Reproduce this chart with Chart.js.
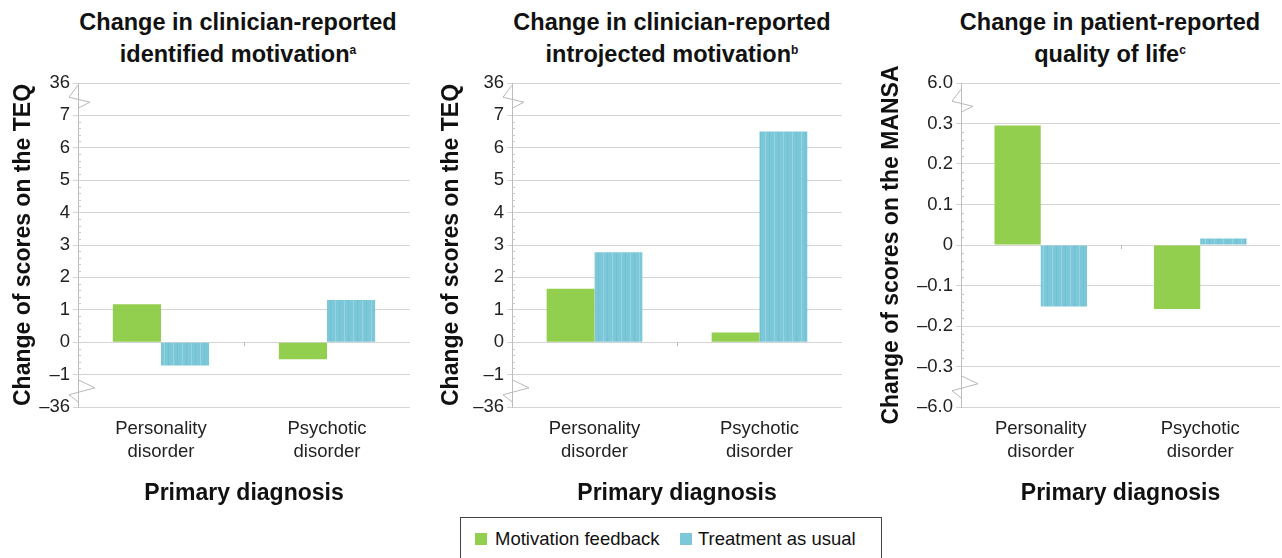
<!DOCTYPE html>
<html>
<head>
<meta charset="utf-8">
<script src="https://cdn.jsdelivr.net/npm/chart.js@4.4.1/dist/chart.umd.min.js"></script>
<style>
  body { margin: 0; background: #fff; font-family: "Liberation Sans", Arial, sans-serif; }
  #page { position: relative; width: 1282px; height: 558px; overflow: hidden; }
  .title { position: absolute; top: 8px; width: 440px; text-align: center; font-weight: bold; font-size: 23.5px; line-height: 28px; color: #111; }
  .title sup { font-size: 12px; vertical-align: 8px; }
  .panel { position: absolute; top: 40px; height: 467px; }
  #legend { position: absolute; left: 460px; top: 517px; width: 422px; height: 50px; border: 1px solid #444; box-sizing: border-box; font-size: 18.5px; color: #111; }
  #legend span.sw { position: absolute; top: 15px; width: 12px; height: 12px; }
  #legend span.tx { position: absolute; top: 10px; }
</style>
</head>
<body>
<div id="page">
  <div class="title" style="left:18px">Change in clinician-reported<br>identified motivation<sup>a</sup></div>
  <div class="title" style="left:452px">Change in clinician-reported<br>introjected motivation<sup>b</sup></div>
  <div class="title" style="left:890px">Change in patient-reported<br>quality of life<sup>c</sup></div>
  <div class="panel" style="left:0px;width:412px"><canvas id="c1"></canvas></div>
  <div class="panel" style="left:430px;width:414px"><canvas id="c2"></canvas></div>
  <div class="panel" style="left:870px;width:412px"><canvas id="c3"></canvas></div>
  <div id="legend">
    <span class="sw" style="left:14px;background:#92cf4f"></span><span class="tx" style="left:34px">Motivation feedback</span>
    <span class="sw" style="left:219px;background:#7cc8d9"></span><span class="tx" style="left:237px">Treatment as usual</span>
  </div>
</div>
<script>
const categories = [['Personality', 'disorder'], ['Psychotic', 'disorder']];
const seriesNames = ['Motivation feedback', 'Treatment as usual'];

// identified motivation (TEQ)
const identifiedMF = [1.17, -0.53];
const identifiedTAU = [-0.72, 1.30];
// introjected motivation (TEQ)
const introjectedMF = [1.65, 0.30];
const introjectedTAU = [2.78, 6.50];
// quality of life (MANSA)
const qolMF = [0.295, -0.158];
const qolTAU = [-0.152, 0.016];

// broken axis: outermost ticks stand for the far values
const teqTickLabels = ['\u201336', '\u20131', '0', '1', '2', '3', '4', '5', '6', '7', '36'];
const mansaTickLabels = ['\u20136.0', '\u20130.3', '\u20130.2', '\u20130.1', '0', '0.1', '0.2', '0.3', '6.0'];

const GREEN = '#92cf4f';
const GRID = '#d4d4d4';

// striped fill for the TAU bars
function stripePattern() {
  const c = document.createElement('canvas');
  c.width = 9; c.height = 4;
  const g = c.getContext('2d');
  g.fillStyle = '#7cc8d9'; g.fillRect(0, 0, 9, 4);
  g.fillStyle = '#95d4e2'; g.fillRect(2, 0, 1, 4);
  g.fillStyle = '#70c1d3'; g.fillRect(6, 0, 1, 4);
  return g.createPattern(c, 'repeat');
}
const TEAL = stripePattern();

const axisBreaks = {
  id: 'axisBreaks',
  afterDraw(chart) {
    const { ctx, scales: { x, y } } = chart;
    const ticks = y.ticks;
    const ax = x.left;
    ctx.save();
    // minor ticks inside the unbroken range
    ctx.strokeStyle = '#c8c8c8';
    ctx.lineWidth = 1;
    for (let i = 1; i < ticks.length - 2; i++) {
      const a = y.getPixelForValue(ticks[i].value);
      const b = y.getPixelForValue(ticks[i + 1].value);
      for (let k = 1; k < 5; k++) {
        const py = Math.round(a + (b - a) * k / 5) + 0.5;
        ctx.beginPath(); ctx.moveTo(ax, py); ctx.lineTo(ax + 3, py); ctx.stroke();
      }
    }
    ctx.strokeStyle = '#b8b8b8';
    // top break
    let my = (y.getPixelForValue(ticks[ticks.length - 1].value) + y.getPixelForValue(ticks[ticks.length - 2].value)) / 2;
    ctx.beginPath();
    ctx.moveTo(ax, my - 14);
    ctx.lineTo(ax - 9, my - 2);
    ctx.lineTo(ax + 12, my + 3);
    ctx.lineTo(ax, my + 9);
    ctx.stroke();
    // bottom break
    my = (y.getPixelForValue(ticks[0].value) + y.getPixelForValue(ticks[1].value)) / 2;
    ctx.beginPath();
    ctx.moveTo(ax, my - 11);
    ctx.lineTo(ax + 17, my - 3);
    ctx.lineTo(ax - 9, my + 4);
    ctx.lineTo(ax, my + 11);
    ctx.stroke();
    // small category divider tick on the zero line
    const zx = Math.round(x.getPixelForValue(0.5)) + 0.5;
    const zy = y.getPixelForValue(0);
    ctx.beginPath(); ctx.moveTo(zx, zy); ctx.lineTo(zx, zy + 4); ctx.stroke();
    ctx.restore();
  }
};

function makeChart(id, mf, tau, opts) {
  new Chart(document.getElementById(id), {
    type: 'bar',
    data: {
      labels: categories,
      datasets: [
        { label: seriesNames[0], data: mf, backgroundColor: GREEN, categoryPercentage: 0.58, barPercentage: 1.0 },
        { label: seriesNames[1], data: tau, backgroundColor: TEAL, categoryPercentage: 0.58, barPercentage: 1.0 }
      ]
    },
    options: {
      responsive: true,
      maintainAspectRatio: false,
      animation: false,
      events: [],
      layout: { padding: { top: 43, right: 2, bottom: 0, left: 0 } },
      plugins: { legend: { display: false }, tooltip: { enabled: false } },
      scales: {
        x: {
          grid: { display: false },
          border: { display: false },
          ticks: { color: '#222', font: { family: 'Liberation Sans', size: 18.5, lineHeight: 1.25 }, maxRotation: 0, padding: 2 },
          title: { display: true, text: 'Primary diagnosis', color: '#111', font: { family: 'Liberation Sans', size: 23, weight: 'bold' }, padding: { top: 0, bottom: 0 } },
          afterFit(s) { s.height = 100; }
        },
        y: {
          min: opts.min, max: opts.max,
          grid: { color: GRID, tickLength: 5 },
          border: { color: '#bdbdbd' },
          ticks: {
            stepSize: opts.step,
            color: '#222',
            font: { family: 'Liberation Sans', size: 18.5 },
            padding: 3,
            callback: v => opts.labels[Math.round((v - opts.min) / opts.step)]
          },
          title: { display: true, text: opts.yTitle, color: '#111', font: { family: 'Liberation Sans', size: 23, weight: 'bold' }, padding: { top: opts.titlePad, bottom: 0 } },
          afterFit(s) { s.width = opts.axisW; }
        }
      }
    },
    plugins: [axisBreaks]
  });
}

makeChart('c1', identifiedMF, identifiedTAU, { min: -2, max: 8, step: 1, labels: teqTickLabels, yTitle: 'Change of scores on the TEQ', axisW: 78, titlePad: 10 });
makeChart('c2', introjectedMF, introjectedTAU, { min: -2, max: 8, step: 1, labels: teqTickLabels, yTitle: 'Change of scores on the TEQ', axisW: 82, titlePad: 8 });
makeChart('c3', qolMF, qolTAU, { min: -0.4, max: 0.4, step: 0.1, labels: mansaTickLabels, yTitle: 'Change of scores on the MANSA', axisW: 91, titlePad: 8 });
</script>
</body>
</html>
